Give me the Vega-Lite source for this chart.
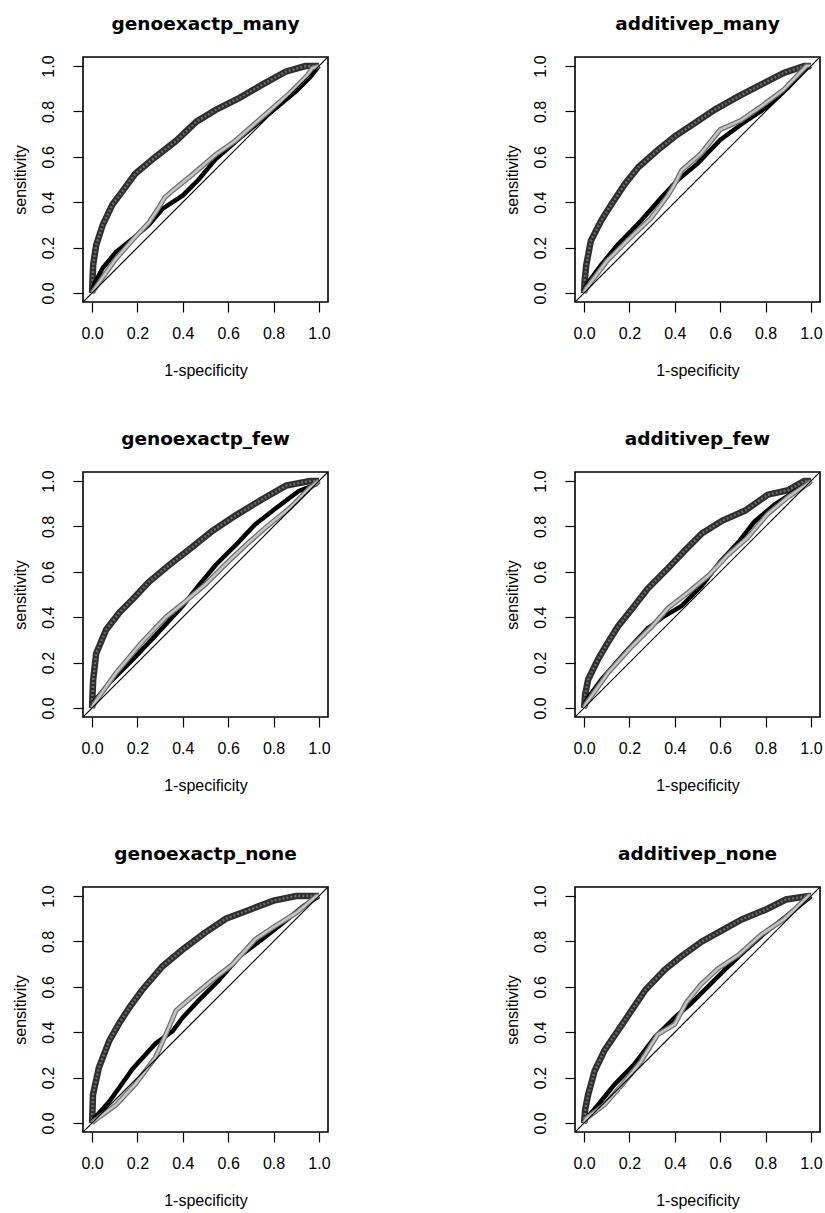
{
  "$schema": "https://vega.github.io/schema/vega-lite/v6.json",
  "padding": {"left": 11, "top": 14, "right": 0, "bottom": 0},
  "background": "white",
  "datasets": {
    "roc": [
      {"p":"genoexactp_many","s":"dark","x":0,"y":0},{"p":"genoexactp_many","s":"dark","x":0.002,"y":0.06},{"p":"genoexactp_many","s":"dark","x":0.005,"y":0.125},{"p":"genoexactp_many","s":"dark","x":0.018,"y":0.21},{"p":"genoexactp_many","s":"dark","x":0.047,"y":0.3},{"p":"genoexactp_many","s":"dark","x":0.09,"y":0.39},{"p":"genoexactp_many","s":"dark","x":0.135,"y":0.45},{"p":"genoexactp_many","s":"dark","x":0.19,"y":0.525},{"p":"genoexactp_many","s":"dark","x":0.28,"y":0.6},{"p":"genoexactp_many","s":"dark","x":0.37,"y":0.67},{"p":"genoexactp_many","s":"dark","x":0.46,"y":0.755},{"p":"genoexactp_many","s":"dark","x":0.545,"y":0.807},{"p":"genoexactp_many","s":"dark","x":0.65,"y":0.86},{"p":"genoexactp_many","s":"dark","x":0.75,"y":0.918},{"p":"genoexactp_many","s":"dark","x":0.853,"y":0.975},{"p":"genoexactp_many","s":"dark","x":0.94,"y":1.0},{"p":"genoexactp_many","s":"dark","x":1,"y":1},
      {"p":"genoexactp_many","s":"black","x":0,"y":0},{"p":"genoexactp_many","s":"black","x":0.01,"y":0.04},{"p":"genoexactp_many","s":"black","x":0.047,"y":0.11},{"p":"genoexactp_many","s":"black","x":0.105,"y":0.18},{"p":"genoexactp_many","s":"black","x":0.18,"y":0.24},{"p":"genoexactp_many","s":"black","x":0.25,"y":0.3},{"p":"genoexactp_many","s":"black","x":0.31,"y":0.37},{"p":"genoexactp_many","s":"black","x":0.355,"y":0.4},{"p":"genoexactp_many","s":"black","x":0.4,"y":0.43},{"p":"genoexactp_many","s":"black","x":0.47,"y":0.5},{"p":"genoexactp_many","s":"black","x":0.545,"y":0.59},{"p":"genoexactp_many","s":"black","x":0.66,"y":0.69},{"p":"genoexactp_many","s":"black","x":0.78,"y":0.79},{"p":"genoexactp_many","s":"black","x":0.9,"y":0.89},{"p":"genoexactp_many","s":"black","x":0.96,"y":0.95},{"p":"genoexactp_many","s":"black","x":1,"y":1},
      {"p":"genoexactp_many","s":"light","x":0,"y":0},{"p":"genoexactp_many","s":"light","x":0.02,"y":0.03},{"p":"genoexactp_many","s":"light","x":0.105,"y":0.15},{"p":"genoexactp_many","s":"light","x":0.18,"y":0.235},{"p":"genoexactp_many","s":"light","x":0.25,"y":0.31},{"p":"genoexactp_many","s":"light","x":0.29,"y":0.37},{"p":"genoexactp_many","s":"light","x":0.32,"y":0.42},{"p":"genoexactp_many","s":"light","x":0.36,"y":0.455},{"p":"genoexactp_many","s":"light","x":0.44,"y":0.52},{"p":"genoexactp_many","s":"light","x":0.545,"y":0.61},{"p":"genoexactp_many","s":"light","x":0.63,"y":0.67},{"p":"genoexactp_many","s":"light","x":0.75,"y":0.775},{"p":"genoexactp_many","s":"light","x":0.87,"y":0.88},{"p":"genoexactp_many","s":"light","x":0.95,"y":0.96},{"p":"genoexactp_many","s":"light","x":0.97,"y":0.99},{"p":"genoexactp_many","s":"light","x":1,"y":1},
      {"p":"genoexactp_many","s":"diag","x":-0.04,"y":-0.04},{"p":"genoexactp_many","s":"diag","x":1.04,"y":1.04},

      {"p":"additivep_many","s":"dark","x":0,"y":0},{"p":"additivep_many","s":"dark","x":0.003,"y":0.06},{"p":"additivep_many","s":"dark","x":0.01,"y":0.125},{"p":"additivep_many","s":"dark","x":0.03,"y":0.23},{"p":"additivep_many","s":"dark","x":0.076,"y":0.32},{"p":"additivep_many","s":"dark","x":0.12,"y":0.39},{"p":"additivep_many","s":"dark","x":0.18,"y":0.48},{"p":"additivep_many","s":"dark","x":0.24,"y":0.555},{"p":"additivep_many","s":"dark","x":0.325,"y":0.63},{"p":"additivep_many","s":"dark","x":0.4,"y":0.69},{"p":"additivep_many","s":"dark","x":0.49,"y":0.75},{"p":"additivep_many","s":"dark","x":0.575,"y":0.807},{"p":"additivep_many","s":"dark","x":0.68,"y":0.866},{"p":"additivep_many","s":"dark","x":0.78,"y":0.918},{"p":"additivep_many","s":"dark","x":0.88,"y":0.97},{"p":"additivep_many","s":"dark","x":0.97,"y":1.0},{"p":"additivep_many","s":"dark","x":1,"y":1},
      {"p":"additivep_many","s":"black","x":0,"y":0},{"p":"additivep_many","s":"black","x":0.01,"y":0.035},{"p":"additivep_many","s":"black","x":0.076,"y":0.125},{"p":"additivep_many","s":"black","x":0.15,"y":0.214},{"p":"additivep_many","s":"black","x":0.25,"y":0.317},{"p":"additivep_many","s":"black","x":0.34,"y":0.42},{"p":"additivep_many","s":"black","x":0.41,"y":0.495},{"p":"additivep_many","s":"black","x":0.5,"y":0.57},{"p":"additivep_many","s":"black","x":0.6,"y":0.674},{"p":"additivep_many","s":"black","x":0.7,"y":0.748},{"p":"additivep_many","s":"black","x":0.81,"y":0.822},{"p":"additivep_many","s":"black","x":0.89,"y":0.896},{"p":"additivep_many","s":"black","x":0.98,"y":0.99},{"p":"additivep_many","s":"black","x":1,"y":1},
      {"p":"additivep_many","s":"light","x":0,"y":0},{"p":"additivep_many","s":"light","x":0.01,"y":0.02},{"p":"additivep_many","s":"light","x":0.1,"y":0.14},{"p":"additivep_many","s":"light","x":0.19,"y":0.23},{"p":"additivep_many","s":"light","x":0.295,"y":0.33},{"p":"additivep_many","s":"light","x":0.37,"y":0.43},{"p":"additivep_many","s":"light","x":0.4,"y":0.48},{"p":"additivep_many","s":"light","x":0.43,"y":0.54},{"p":"additivep_many","s":"light","x":0.515,"y":0.614},{"p":"additivep_many","s":"light","x":0.6,"y":0.72},{"p":"additivep_many","s":"light","x":0.69,"y":0.76},{"p":"additivep_many","s":"light","x":0.78,"y":0.822},{"p":"additivep_many","s":"light","x":0.88,"y":0.896},{"p":"additivep_many","s":"light","x":0.98,"y":1.0},{"p":"additivep_many","s":"light","x":1,"y":1},
      {"p":"additivep_many","s":"diag","x":-0.04,"y":-0.04},{"p":"additivep_many","s":"diag","x":1.04,"y":1.04},

      {"p":"genoexactp_few","s":"dark","x":0,"y":0},{"p":"genoexactp_few","s":"dark","x":0.002,"y":0.06},{"p":"genoexactp_few","s":"dark","x":0.005,"y":0.125},{"p":"genoexactp_few","s":"dark","x":0.018,"y":0.24},{"p":"genoexactp_few","s":"dark","x":0.062,"y":0.345},{"p":"genoexactp_few","s":"dark","x":0.12,"y":0.42},{"p":"genoexactp_few","s":"dark","x":0.18,"y":0.48},{"p":"genoexactp_few","s":"dark","x":0.25,"y":0.555},{"p":"genoexactp_few","s":"dark","x":0.34,"y":0.63},{"p":"genoexactp_few","s":"dark","x":0.43,"y":0.7},{"p":"genoexactp_few","s":"dark","x":0.53,"y":0.78},{"p":"genoexactp_few","s":"dark","x":0.635,"y":0.85},{"p":"genoexactp_few","s":"dark","x":0.75,"y":0.92},{"p":"genoexactp_few","s":"dark","x":0.855,"y":0.98},{"p":"genoexactp_few","s":"dark","x":0.96,"y":1.0},{"p":"genoexactp_few","s":"dark","x":1,"y":1},
      {"p":"genoexactp_few","s":"black","x":0,"y":0},{"p":"genoexactp_few","s":"black","x":0.01,"y":0.03},{"p":"genoexactp_few","s":"black","x":0.076,"y":0.11},{"p":"genoexactp_few","s":"black","x":0.18,"y":0.214},{"p":"genoexactp_few","s":"black","x":0.28,"y":0.32},{"p":"genoexactp_few","s":"black","x":0.4,"y":0.45},{"p":"genoexactp_few","s":"black","x":0.47,"y":0.54},{"p":"genoexactp_few","s":"black","x":0.545,"y":0.63},{"p":"genoexactp_few","s":"black","x":0.635,"y":0.72},{"p":"genoexactp_few","s":"black","x":0.72,"y":0.81},{"p":"genoexactp_few","s":"black","x":0.81,"y":0.88},{"p":"genoexactp_few","s":"black","x":0.91,"y":0.955},{"p":"genoexactp_few","s":"black","x":0.985,"y":0.985},{"p":"genoexactp_few","s":"black","x":1,"y":1},
      {"p":"genoexactp_few","s":"light","x":0,"y":0},{"p":"genoexactp_few","s":"light","x":0.01,"y":0.02},{"p":"genoexactp_few","s":"light","x":0.106,"y":0.155},{"p":"genoexactp_few","s":"light","x":0.22,"y":0.29},{"p":"genoexactp_few","s":"light","x":0.325,"y":0.4},{"p":"genoexactp_few","s":"light","x":0.4,"y":0.46},{"p":"genoexactp_few","s":"light","x":0.5,"y":0.545},{"p":"genoexactp_few","s":"light","x":0.59,"y":0.635},{"p":"genoexactp_few","s":"light","x":0.68,"y":0.72},{"p":"genoexactp_few","s":"light","x":0.765,"y":0.795},{"p":"genoexactp_few","s":"light","x":0.87,"y":0.88},{"p":"genoexactp_few","s":"light","x":0.96,"y":0.97},{"p":"genoexactp_few","s":"light","x":1,"y":1},
      {"p":"genoexactp_few","s":"diag","x":-0.04,"y":-0.04},{"p":"genoexactp_few","s":"diag","x":1.04,"y":1.04},

      {"p":"additivep_few","s":"dark","x":0,"y":0},{"p":"additivep_few","s":"dark","x":0.005,"y":0.06},{"p":"additivep_few","s":"dark","x":0.018,"y":0.125},{"p":"additivep_few","s":"dark","x":0.062,"y":0.215},{"p":"additivep_few","s":"dark","x":0.106,"y":0.29},{"p":"additivep_few","s":"dark","x":0.15,"y":0.36},{"p":"additivep_few","s":"dark","x":0.21,"y":0.435},{"p":"additivep_few","s":"dark","x":0.28,"y":0.525},{"p":"additivep_few","s":"dark","x":0.37,"y":0.616},{"p":"additivep_few","s":"dark","x":0.44,"y":0.69},{"p":"additivep_few","s":"dark","x":0.52,"y":0.77},{"p":"additivep_few","s":"dark","x":0.61,"y":0.826},{"p":"additivep_few","s":"dark","x":0.71,"y":0.87},{"p":"additivep_few","s":"dark","x":0.81,"y":0.94},{"p":"additivep_few","s":"dark","x":0.9,"y":0.96},{"p":"additivep_few","s":"dark","x":0.97,"y":1.0},{"p":"additivep_few","s":"dark","x":1,"y":1},
      {"p":"additivep_few","s":"black","x":0,"y":0},{"p":"additivep_few","s":"black","x":0.01,"y":0.035},{"p":"additivep_few","s":"black","x":0.076,"y":0.125},{"p":"additivep_few","s":"black","x":0.18,"y":0.243},{"p":"additivep_few","s":"black","x":0.28,"y":0.35},{"p":"additivep_few","s":"black","x":0.355,"y":0.405},{"p":"additivep_few","s":"black","x":0.43,"y":0.45},{"p":"additivep_few","s":"black","x":0.52,"y":0.54},{"p":"additivep_few","s":"black","x":0.6,"y":0.645},{"p":"additivep_few","s":"black","x":0.68,"y":0.73},{"p":"additivep_few","s":"black","x":0.75,"y":0.82},{"p":"additivep_few","s":"black","x":0.84,"y":0.897},{"p":"additivep_few","s":"black","x":0.93,"y":0.955},{"p":"additivep_few","s":"black","x":0.99,"y":0.99},{"p":"additivep_few","s":"black","x":1,"y":1},
      {"p":"additivep_few","s":"light","x":0,"y":0},{"p":"additivep_few","s":"light","x":0.01,"y":0.02},{"p":"additivep_few","s":"light","x":0.106,"y":0.155},{"p":"additivep_few","s":"light","x":0.21,"y":0.27},{"p":"additivep_few","s":"light","x":0.3,"y":0.36},{"p":"additivep_few","s":"light","x":0.37,"y":0.44},{"p":"additivep_few","s":"light","x":0.46,"y":0.51},{"p":"additivep_few","s":"light","x":0.55,"y":0.585},{"p":"additivep_few","s":"light","x":0.635,"y":0.675},{"p":"additivep_few","s":"light","x":0.72,"y":0.75},{"p":"additivep_few","s":"light","x":0.81,"y":0.855},{"p":"additivep_few","s":"light","x":0.9,"y":0.93},{"p":"additivep_few","s":"light","x":0.99,"y":0.99},{"p":"additivep_few","s":"light","x":1,"y":1},
      {"p":"additivep_few","s":"diag","x":-0.04,"y":-0.04},{"p":"additivep_few","s":"diag","x":1.04,"y":1.04},

      {"p":"genoexactp_none","s":"dark","x":0,"y":0},{"p":"genoexactp_none","s":"dark","x":0.002,"y":0.06},{"p":"genoexactp_none","s":"dark","x":0.004,"y":0.125},{"p":"genoexactp_none","s":"dark","x":0.03,"y":0.244},{"p":"genoexactp_none","s":"dark","x":0.076,"y":0.363},{"p":"genoexactp_none","s":"dark","x":0.12,"y":0.44},{"p":"genoexactp_none","s":"dark","x":0.165,"y":0.51},{"p":"genoexactp_none","s":"dark","x":0.22,"y":0.585},{"p":"genoexactp_none","s":"dark","x":0.31,"y":0.69},{"p":"genoexactp_none","s":"dark","x":0.4,"y":0.765},{"p":"genoexactp_none","s":"dark","x":0.5,"y":0.84},{"p":"genoexactp_none","s":"dark","x":0.59,"y":0.9},{"p":"genoexactp_none","s":"dark","x":0.695,"y":0.94},{"p":"genoexactp_none","s":"dark","x":0.8,"y":0.98},{"p":"genoexactp_none","s":"dark","x":0.9,"y":1.0},{"p":"genoexactp_none","s":"dark","x":1,"y":1},
      {"p":"genoexactp_none","s":"black","x":0,"y":0},{"p":"genoexactp_none","s":"black","x":0.01,"y":0.02},{"p":"genoexactp_none","s":"black","x":0.076,"y":0.094},{"p":"genoexactp_none","s":"black","x":0.18,"y":0.24},{"p":"genoexactp_none","s":"black","x":0.28,"y":0.35},{"p":"genoexactp_none","s":"black","x":0.355,"y":0.405},{"p":"genoexactp_none","s":"black","x":0.4,"y":0.465},{"p":"genoexactp_none","s":"black","x":0.47,"y":0.54},{"p":"genoexactp_none","s":"black","x":0.56,"y":0.63},{"p":"genoexactp_none","s":"black","x":0.65,"y":0.735},{"p":"genoexactp_none","s":"black","x":0.75,"y":0.81},{"p":"genoexactp_none","s":"black","x":0.84,"y":0.88},{"p":"genoexactp_none","s":"black","x":0.93,"y":0.955},{"p":"genoexactp_none","s":"black","x":1,"y":1},
      {"p":"genoexactp_none","s":"light","x":0,"y":0},{"p":"genoexactp_none","s":"light","x":0.01,"y":0.01},{"p":"genoexactp_none","s":"light","x":0.106,"y":0.08},{"p":"genoexactp_none","s":"light","x":0.19,"y":0.17},{"p":"genoexactp_none","s":"light","x":0.28,"y":0.29},{"p":"genoexactp_none","s":"light","x":0.325,"y":0.39},{"p":"genoexactp_none","s":"light","x":0.37,"y":0.495},{"p":"genoexactp_none","s":"light","x":0.44,"y":0.555},{"p":"genoexactp_none","s":"light","x":0.53,"y":0.63},{"p":"genoexactp_none","s":"light","x":0.62,"y":0.7},{"p":"genoexactp_none","s":"light","x":0.72,"y":0.81},{"p":"genoexactp_none","s":"light","x":0.81,"y":0.87},{"p":"genoexactp_none","s":"light","x":0.9,"y":0.926},{"p":"genoexactp_none","s":"light","x":0.99,"y":1.0},{"p":"genoexactp_none","s":"light","x":1,"y":1},
      {"p":"genoexactp_none","s":"diag","x":-0.04,"y":-0.04},{"p":"genoexactp_none","s":"diag","x":1.04,"y":1.04},

      {"p":"additivep_none","s":"dark","x":0,"y":0},{"p":"additivep_none","s":"dark","x":0.005,"y":0.06},{"p":"additivep_none","s":"dark","x":0.018,"y":0.125},{"p":"additivep_none","s":"dark","x":0.047,"y":0.23},{"p":"additivep_none","s":"dark","x":0.09,"y":0.32},{"p":"additivep_none","s":"dark","x":0.15,"y":0.408},{"p":"additivep_none","s":"dark","x":0.21,"y":0.497},{"p":"additivep_none","s":"dark","x":0.27,"y":0.586},{"p":"additivep_none","s":"dark","x":0.355,"y":0.675},{"p":"additivep_none","s":"dark","x":0.43,"y":0.735},{"p":"additivep_none","s":"dark","x":0.52,"y":0.8},{"p":"additivep_none","s":"dark","x":0.61,"y":0.85},{"p":"additivep_none","s":"dark","x":0.695,"y":0.897},{"p":"additivep_none","s":"dark","x":0.8,"y":0.94},{"p":"additivep_none","s":"dark","x":0.89,"y":0.985},{"p":"additivep_none","s":"dark","x":0.99,"y":1.0},{"p":"additivep_none","s":"dark","x":1,"y":1},
      {"p":"additivep_none","s":"black","x":0,"y":0},{"p":"additivep_none","s":"black","x":0.01,"y":0.02},{"p":"additivep_none","s":"black","x":0.062,"y":0.08},{"p":"additivep_none","s":"black","x":0.135,"y":0.17},{"p":"additivep_none","s":"black","x":0.22,"y":0.257},{"p":"additivep_none","s":"black","x":0.31,"y":0.375},{"p":"additivep_none","s":"black","x":0.4,"y":0.465},{"p":"additivep_none","s":"black","x":0.47,"y":0.525},{"p":"additivep_none","s":"black","x":0.545,"y":0.6},{"p":"additivep_none","s":"black","x":0.62,"y":0.675},{"p":"additivep_none","s":"black","x":0.71,"y":0.76},{"p":"additivep_none","s":"black","x":0.8,"y":0.84},{"p":"additivep_none","s":"black","x":0.89,"y":0.91},{"p":"additivep_none","s":"black","x":0.99,"y":0.99},{"p":"additivep_none","s":"black","x":1,"y":1},
      {"p":"additivep_none","s":"light","x":0,"y":0},{"p":"additivep_none","s":"light","x":0.01,"y":0.02},{"p":"additivep_none","s":"light","x":0.09,"y":0.08},{"p":"additivep_none","s":"light","x":0.18,"y":0.183},{"p":"additivep_none","s":"light","x":0.25,"y":0.27},{"p":"additivep_none","s":"light","x":0.325,"y":0.39},{"p":"additivep_none","s":"light","x":0.4,"y":0.435},{"p":"additivep_none","s":"light","x":0.45,"y":0.53},{"p":"additivep_none","s":"light","x":0.515,"y":0.61},{"p":"additivep_none","s":"light","x":0.59,"y":0.68},{"p":"additivep_none","s":"light","x":0.68,"y":0.74},{"p":"additivep_none","s":"light","x":0.78,"y":0.83},{"p":"additivep_none","s":"light","x":0.88,"y":0.897},{"p":"additivep_none","s":"light","x":0.99,"y":1.0},{"p":"additivep_none","s":"light","x":1,"y":1},
      {"p":"additivep_none","s":"diag","x":-0.04,"y":-0.04},{"p":"additivep_none","s":"diag","x":1.04,"y":1.04}
    ]
  },
  "data": {"name": "roc"},
  "facet": {
    "field": "p",
    "type": "nominal",
    "sort": ["genoexactp_many", "additivep_many", "genoexactp_few", "additivep_few", "genoexactp_none", "additivep_none"],
    "header": {"title": null, "labelFont": "DejaVu Sans", "labelFontSize": 18.5, "labelFontWeight": "bold", "labelColor": "black", "labelPadding": 21}
  },
  "columns": 2,
  "spacing": {"column": 172, "row": 50},
  "resolve": {"axis": {"x": "independent", "y": "independent"}},
  "spec": {
    "width": 245,
    "height": 245,
    "encoding": {
      "x": {"field": "x", "type": "quantitative", "scale": {"domain": [-0.04, 1.04], "nice": false, "zero": false},
            "axis": {"title": "1-specificity", "values": [0, 0.2, 0.4, 0.6, 0.8, 1.0], "format": ".1f", "labelPadding": 13, "titlePadding": 21}},
      "y": {"field": "y", "type": "quantitative", "scale": {"domain": [-0.04, 1.04], "nice": false, "zero": false},
            "axis": {"title": "sensitivity", "values": [0, 0.2, 0.4, 0.6, 0.8, 1.0], "format": ".1f", "labelAngle": -90, "labelAlign": "center", "labelBaseline": "bottom", "labelPadding": 17, "titlePadding": 12}}
    },
    "layer": [
      {"transform": [{"filter": "datum.s === 'dark'"}], "mark": {"type": "line", "color": "#2e2e2e", "strokeWidth": 6.5, "clip": true}},
      {"transform": [{"filter": "datum.s === 'dark'"}], "mark": {"type": "line", "color": "#6a6a6a", "strokeWidth": 2.5, "clip": true, "strokeDash": [2, 2]}},
      {"transform": [{"filter": "datum.s === 'black'"}], "mark": {"type": "line", "color": "#000000", "strokeWidth": 4.5, "clip": true}},
      {"transform": [{"filter": "datum.s === 'light'"}], "mark": {"type": "line", "color": "#707070", "strokeWidth": 5, "clip": true}},
      {"transform": [{"filter": "datum.s === 'light'"}], "mark": {"type": "line", "color": "#c4c4c4", "strokeWidth": 2.5, "clip": true}},
      {"transform": [{"filter": "datum.s === 'diag'"}], "mark": {"type": "line", "color": "#000000", "strokeWidth": 1.2, "clip": true}}
    ]
  },
  "config": {
    "font": "Liberation Sans",
    "view": {"stroke": "#000000", "strokeWidth": 1.6},
    "axis": {"domain": false, "grid": false, "ticks": true, "tickSize": 10, "tickColor": "#000000", "tickWidth": 1.2,
             "labelFont": "Liberation Sans", "labelFontSize": 16, "labelColor": "#000000",
             "titleFont": "Liberation Sans", "titleFontSize": 16, "titleFontWeight": "normal", "titleColor": "#000000"}
  }
}
